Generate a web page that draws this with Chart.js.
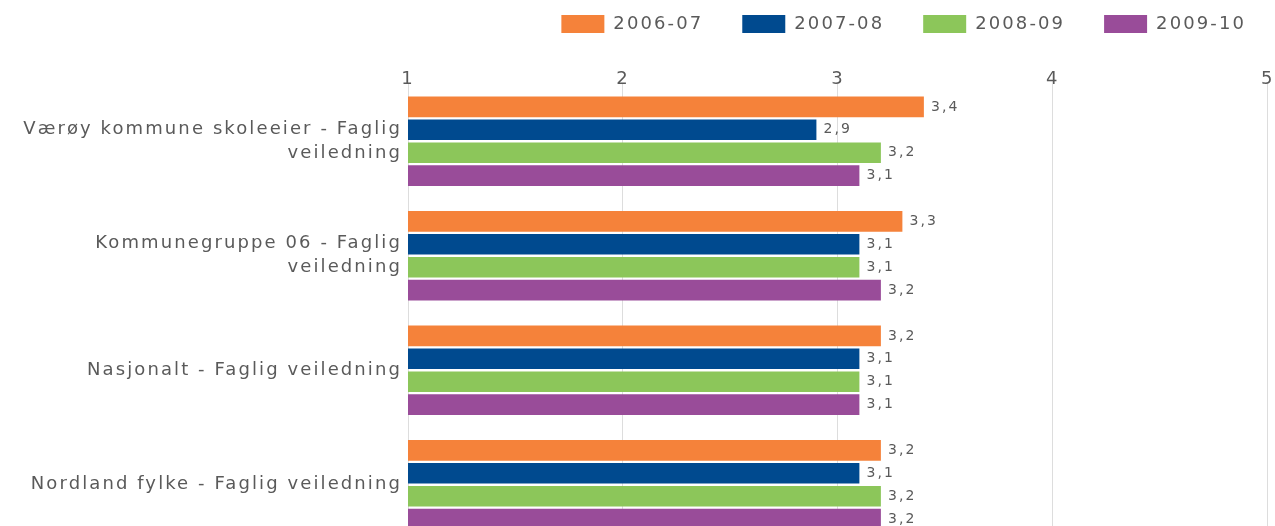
<!DOCTYPE html>
<html>
<head>
<meta charset="utf-8">
<script src="https://cdn.jsdelivr.net/npm/chart.js@4.4.1/dist/chart.umd.min.js"></script>
<style>
  html, body { margin: 0; padding: 0; background: #fff; overflow: hidden; }
  #wrap { width: 1275px; height: 526px; overflow: hidden; position: relative; }
  #chart { position: absolute; left: 0; top: -24px; }
</style>
</head>
<body>
<div id="wrap"><canvas id="chart" width="1292" height="566"></canvas></div>
<script>
// categories (y axis)
const categories = [
    ['Værøy kommune skoleeier - Faglig', 'veiledning'],
    ['Kommunegruppe 06 - Faglig', 'veiledning'],
    'Nasjonalt - Faglig veiledning',
    'Nordland fylke - Faglig veiledning'
];

// series
const seriesNames = ['2006-07', '2007-08', '2008-09', '2009-10'];
const values0607 = [3.4, 3.3, 3.2, 3.2];
const values0708 = [2.9, 3.1, 3.1, 3.1];
const values0809 = [3.2, 3.1, 3.1, 3.2];
const values0910 = [3.1, 3.2, 3.1, 3.2];
const seriesColors = ['#F5823A', '#004A8F', '#8CC65A', '#994C99'];

// x axis ticks (axis runs a little past 5, cut off at the right edge)
const xTicks = [1, 2, 3, 4, 5];
const xMax = 5.08;

const textColor = '#5a5a5a';
const spacing = '2.1px';

// the reference text is wide, so space the letters a bit
const letterSpacing = {
    id: 'letterSpacing',
    afterInit(chart) { chart.ctx.letterSpacing = spacing; },
    beforeLayout(chart) { chart.ctx.letterSpacing = spacing; },
    beforeDraw(chart) { chart.ctx.letterSpacing = spacing; }
};

// value labels right of each bar, with decimal comma
const valueLabels = {
    id: 'valueLabels',
    afterDatasetsDraw(chart) {
        const ctx = chart.ctx;
        ctx.save();
        ctx.font = '14px "DejaVu Sans"';
        ctx.fillStyle = textColor;
        ctx.textAlign = 'left';
        ctx.textBaseline = 'middle';
        chart.data.datasets.forEach((ds, i) => {
            chart.getDatasetMeta(i).data.forEach((bar, j) => {
                ctx.fillText(String(ds.data[j]).replace('.', ','), bar.x + 7, bar.y);
            });
        });
        ctx.restore();
    }
};

const allValues = [values0607, values0708, values0809, values0910];

const ctx = document.getElementById('chart').getContext('2d');
new Chart(ctx, {
    type: 'bar',
    data: {
        labels: categories,
        datasets: seriesNames.map((name, i) => ({
            label: name,
            data: allValues[i],
            backgroundColor: seriesColors[i],
            borderWidth: 0
        }))
    },
    options: {
        indexAxis: 'y',
        responsive: false,
        animation: false,
        categoryPercentage: 0.8,
        barPercentage: 0.9,
        layout: { padding: { right: 7, left: 0, top: 0, bottom: 0 } },
        plugins: {
            legend: {
                position: 'top',
                align: 'end',
                labels: {
                    boxWidth: 43,
                    boxHeight: 18,
                    padding: 39,
                    color: textColor,
                    font: { family: 'DejaVu Sans', size: 18 }
                }
            },
            tooltip: { enabled: false }
        },
        scales: {
            x: {
                position: 'top',
                min: xTicks[0],
                max: xMax,
                afterBuildTicks(scale) {
                    scale.ticks = xTicks.map(v => ({ value: v }));
                },
                afterFit(scale) { scale.height = 41; },
                grid: { color: '#dddddd', drawTicks: false },
                border: { display: false },
                ticks: {
                    padding: -4,
                    color: textColor,
                    font: { family: 'DejaVu Sans', size: 18, lineHeight: 1 }
                }
            },
            y: {
                afterFit(scale) {
                    scale.width = 408;
                    scale.paddingTop = 0;
                    scale.paddingBottom = 0;
                },
                grid: { display: false, drawTicks: false },
                border: { display: false },
                ticks: {
                    padding: 6,
                    color: textColor,
                    font: { family: 'DejaVu Sans', size: 18, lineHeight: 1.33 }
                }
            }
        }
    },
    plugins: [letterSpacing, valueLabels]
});
</script>
</body>
</html>
